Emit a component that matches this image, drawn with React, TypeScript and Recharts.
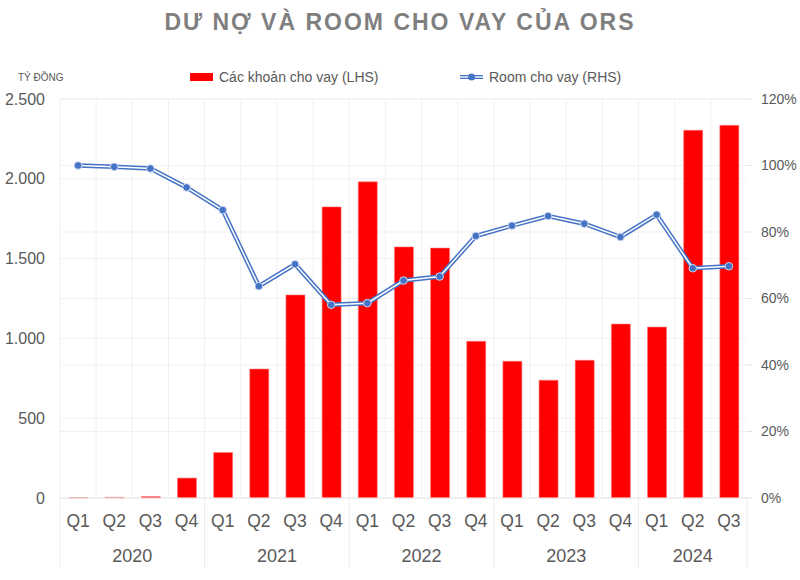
import React from "react";
import {
    ComposedChart,
    Bar,
    Line,
    XAxis,
    YAxis,
    CartesianGrid,
} from "recharts";

const QUARTERS = ["Q1", "Q2", "Q3", "Q4", "Q1", "Q2", "Q3", "Q4", "Q1", "Q2", "Q3", "Q4", "Q1", "Q2", "Q3", "Q4", "Q1", "Q2", "Q3"];
const YEARS = ["2020", "2020", "2020", "2020", "2021", "2021", "2021", "2021", "2022", "2022", "2022", "2022", "2023", "2023", "2023", "2023", "2024", "2024", "2024"];
// tỷ đồng
const LOANS = [2, 4, 9, 125, 285, 808, 1272, 1824, 1981, 1573, 1566, 982, 857, 738, 863, 1090, 1071, 2304, 2335];
// %
const ROOM = [100, 99.6, 99.1, 93.4, 86.6, 63.7, 70.3, 58.1, 58.6, 65.4, 66.6, 78.8, 81.9, 84.8, 82.5, 78.5, 85.2, 69.1, 69.7];

const LEFT_TICKS = [0, 500, 1000, 1500, 2000, 2500];
const RIGHT_TICKS = [0, 20, 40, 60, 80, 100, 120];

const data = QUARTERS.map((q, i) => ({
    key: `${YEARS[i]}-${q}`,
    q,
    year: YEARS[i],
    loans: LOANS[i],
    room: ROOM[i],
}));

const W = 800;
const H = 580;
const LEFT_W = 60;
const RIGHT_W = 53;
const TOP = 99;
const XAXIS_H = 82;
const BAND = (W - LEFT_W - RIGHT_W) / QUARTERS.length;

const FONT = "'Liberation Sans', Arial, Helvetica, sans-serif";
const TEXT = "#595959";
const GRID = "#f1f1f1";
const RED = "#ff0000";
const BLUE = "#4472c4";

const fmtThousands = (v: number) =>
    String(v).replace(/\B(?=(\d{3})+(?!\d))/g, ".");

// nhãn quý + nhóm năm bên dưới
const QuarterTick = (props: any) => {
    const { x, y, index } = props;
    const year = YEARS[index];
    const first = index === 0 || YEARS[index - 1] !== year;
    const last = index === YEARS.length - 1;
    const count = YEARS.filter((yy) => yy === year).length;
    const left = x - BAND / 2;
    return (
        <g>
            <text
                x={x}
                y={y + 23}
                textAnchor="middle"
                dominantBaseline="central"
                fontSize={17.5}
                fill={TEXT}
                fontFamily={FONT}
            >
                {QUARTERS[index]}
            </text>
            {first && (
                <>
                    <line x1={left} x2={left} y1={y} y2={y + 70} stroke="#ececec" />
                    <text
                        x={left + (count * BAND) / 2}
                        y={y + 58}
                        textAnchor="middle"
                        dominantBaseline="central"
                        fontSize={18}
                        fill={TEXT}
                        fontFamily={FONT}
                    >
                        {year}
                    </text>
                </>
            )}
            {last && (
                <line x1={x + BAND / 2} x2={x + BAND / 2} y1={y} y2={y + 70} stroke="#ececec" />
            )}
        </g>
    );
};

const RoomDot = (props: any) => {
    const { cx, cy, index } = props;
    if (cx == null || cy == null) return null;
    return (
        <circle
            key={`dot-${index}`}
            cx={cx}
            cy={cy}
            r={3.8}
            fill={BLUE}
            stroke="#c9d6f0"
            strokeWidth={1}
        />
    );
};

export default function App() {
    return (
        <div
            style={{
                position: "absolute",
                left: 0,
                top: 0,
                width: W,
                height: H,
                background: "#fff",
                fontFamily: FONT,
            }}
        >
            <div
                style={{
                    position: "absolute",
                    top: 8,
                    left: 0,
                    width: W,
                    textAlign: "center",
                    fontSize: 23,
                    lineHeight: "28px",
                    fontWeight: 700,
                    letterSpacing: 2,
                    color: "#7f7f7f",
                }}
            >
                DƯ NỢ VÀ ROOM CHO VAY CỦA ORS
            </div>

            <div
                style={{
                    position: "absolute",
                    top: 72,
                    left: 18,
                    fontSize: 10,
                    color: TEXT,
                }}
            >
                TỶ ĐỒNG
            </div>

            {/* legend */}
            <div
                style={{
                    position: "absolute",
                    top: 69,
                    left: 190,
                    display: "flex",
                    alignItems: "center",
                    fontSize: 14,
                    color: TEXT,
                }}
            >
                <span
                    style={{
                        display: "inline-block",
                        width: 23,
                        height: 8,
                        background: RED,
                        marginRight: 6,
                    }}
                />
                Các khoản cho vay (LHS)
            </div>
            <div
                style={{
                    position: "absolute",
                    top: 69,
                    left: 460,
                    display: "flex",
                    alignItems: "center",
                    fontSize: 14,
                    color: TEXT,
                }}
            >
                <svg width={23} height={10} style={{ marginRight: 6 }}>
                    <line x1={0} x2={23} y1={5} y2={5} stroke={BLUE} strokeWidth={4} />
                    <line x1={0} x2={23} y1={5} y2={5} stroke="#fff" strokeWidth={1.4} />
                    <circle cx={11.5} cy={5} r={3.5} fill={BLUE} />
                </svg>
                Room cho vay (RHS)
            </div>

            <div style={{ position: "absolute", left: 0, top: 0 }}>
                <ComposedChart
                    width={W}
                    height={H}
                    data={data}
                    margin={{ top: TOP, right: 0, left: 0, bottom: 0 }}
                >
                    <CartesianGrid
                        stroke={GRID}
                        verticalCoordinatesGenerator={({ offset }: any) =>
                            QUARTERS.map((_, i) => offset.left + i * BAND)
                        }
                        horizontalCoordinatesGenerator={({ offset }: any) => [
                            ...LEFT_TICKS.map(
                                (t) => offset.top + offset.height * (1 - t / 2500)
                            ),
                            ...RIGHT_TICKS.map(
                                (t) => offset.top + offset.height * (1 - t / 120)
                            ),
                        ]}
                    />
                    <XAxis
                        dataKey="key"
                        interval={0}
                        height={XAXIS_H}
                        axisLine={{ stroke: "#ececec" }}
                        tickLine={false}
                        tickSize={0}
                        tickMargin={0}
                        tick={<QuarterTick />}
                    />
                    <YAxis
                        yAxisId="left"
                        orientation="left"
                        width={LEFT_W}
                        domain={[0, 2500]}
                        ticks={LEFT_TICKS}
                        tickFormatter={fmtThousands}
                        axisLine={false}
                        tickLine={false}
                        tickSize={0}
                        tickMargin={15}
                        tick={{ fontSize: 16, fill: TEXT, fontFamily: FONT }}
                    />
                    <YAxis
                        yAxisId="right"
                        orientation="right"
                        width={RIGHT_W}
                        domain={[0, 120]}
                        ticks={RIGHT_TICKS}
                        tickFormatter={(v: number) => `${v}%`}
                        axisLine={false}
                        tickLine={{ stroke: "#e3e3e3" }}
                        tickSize={5}
                        tickMargin={9}
                        tick={{ fontSize: 14, fill: TEXT, fontFamily: FONT }}
                    />
                    <Bar
                        yAxisId="left"
                        dataKey="loans"
                        fill={RED}
                        stroke="#ff7a7a"
                        strokeWidth={0.6}
                        barSize={19}
                        isAnimationActive={false}
                    />
                    <Line
                        yAxisId="right"
                        dataKey="room"
                        type="linear"
                        stroke={BLUE}
                        strokeWidth={4.5}
                        dot={false}
                        activeDot={false}
                        isAnimationActive={false}
                    />
                    <Line
                        yAxisId="right"
                        dataKey="room"
                        type="linear"
                        stroke="#ffffff"
                        strokeWidth={1.5}
                        dot={<RoomDot />}
                        activeDot={false}
                        isAnimationActive={false}
                    />
                </ComposedChart>
            </div>
        </div>
    );
}
